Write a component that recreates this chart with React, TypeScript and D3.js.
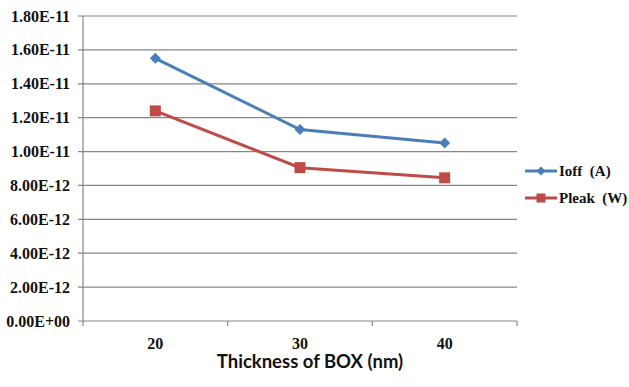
import * as d3 from "d3";

// Données
const thickness = ["20", "30", "40"];
const ioff = [1.55e-11, 1.13e-11, 1.05e-11];
const pleak = [1.24e-11, 9.05e-12, 8.45e-12];
const yTicks = [0, 2e-12, 4e-12, 6e-12, 8e-12, 1e-11, 1.2e-11, 1.4e-11, 1.6e-11, 1.8e-11];

const W = 629;
const H = 387;
const margin = { top: 16, right: 112, bottom: 66, left: 83 };

const BLUE = "#4A7EBB";
const RED = "#BE4B48";
const GRID = "#868686";

const fmt = (v: number) => v.toExponential(2).toUpperCase().replace(/E([+-])(\d)$/, "E$10$2");

export default function App() {
  const x = d3
    .scaleBand()
    .domain(thickness)
    .range([margin.left, W - margin.right]);
  const y = d3
    .scaleLinear()
    .domain([0, 1.8e-11])
    .range([H - margin.bottom, margin.top]);

  const cx = (d: string) => (x(d) || 0) + x.bandwidth() / 2;
  const line = d3
    .line<number>()
    .x((_, i) => cx(thickness[i]))
    .y((d) => y(d));

  const tickFont = "Liberation Serif";
  const x0 = margin.left;
  const x1 = W - margin.right;
  const yBase = y(0);

  const series = [
    { name: "Ioff (A)", values: ioff, color: BLUE, marker: "diamond" },
    { name: "Pleak (W)", values: pleak, color: RED, marker: "square" },
  ];

  const marker = (kind: string, px: number, py: number, color: string, key: string) =>
    kind === "diamond" ? (
      <path key={key} d={`M${px},${py - 5.5}L${px + 5.5},${py}L${px},${py + 5.5}L${px - 5.5},${py}Z`} fill={color} />
    ) : (
      <rect key={key} x={px - 5.5} y={py - 5.5} width={11} height={11} fill={color} />
    );

  return (
    <svg
      width={W}
      height={H}
      style={{ position: "absolute", left: 0, top: 0, background: "#fff" }}
    >
      {/* Grille horizontale + graduations Y */}
      {yTicks.map((t) => (
        <g key={t}>
          <line x1={x0 - 5} x2={x1} y1={y(t)} y2={y(t)} stroke={GRID} strokeWidth={1.2} />
          <text
            x={70}
            y={y(t)}
            dy="0.35em"
            textAnchor="end"
            fontFamily={tickFont}
            fontWeight="bold"
            fontSize={16}
            fill="#111"
          >
            {fmt(t)}
          </text>
        </g>
      ))}

      {/* Axe Y */}
      <line x1={x0} x2={x0} y1={margin.top} y2={yBase} stroke={GRID} strokeWidth={1.2} />

      {/* Graduations X */}
      {[...thickness.map((d) => x(d) || 0), x1].map((tx, i) => (
        <line key={i} x1={tx} x2={tx} y1={yBase} y2={yBase + 5} stroke={GRID} strokeWidth={1.2} />
      ))}
      {thickness.map((d) => (
        <text
          key={d}
          x={cx(d)}
          y={343}
          dy="0.35em"
          textAnchor="middle"
          fontFamily={tickFont}
          fontWeight="bold"
          fontSize={16}
          fill="#111"
        >
          {d}
        </text>
      ))}

      <text
        x={310}
        y={368}
        textAnchor="middle"
        fontFamily="Lato"
        fontWeight="bold"
        fontSize={18.5}
        fill="#111"
      >
        Thickness of BOX (nm)
      </text>

      {/* Séries */}
      {series.map((s) => (
        <g key={s.name}>
          <path d={line(s.values) || ""} fill="none" stroke={s.color} strokeWidth={3} />
          {s.values.map((v, i) => marker(s.marker, cx(thickness[i]), y(v), s.color, `${s.name}-${i}`))}
        </g>
      ))}

      {/* Légende */}
      {series.map((s, i) => {
        const ly = 171 + i * 27;
        return (
          <g key={s.name}>
            <line x1={525} x2={557} y1={ly} y2={ly} stroke={s.color} strokeWidth={3} />
            {s.marker === "diamond" ? (
              <path d={`M541,${ly - 4.5}L545.5,${ly}L541,${ly + 4.5}L536.5,${ly}Z`} fill={s.color} />
            ) : (
              <rect x={536.5} y={ly - 4.5} width={9} height={9} fill={s.color} />
            )}
            <text
              x={559}
              y={ly}
              dy="0.35em"
              fontFamily={tickFont}
              fontWeight="bold"
              fontSize={15}
              fill="#111"
              style={{ whiteSpace: "pre" }}
            >
              {s.name.replace(" ", "  ")}
            </text>
          </g>
        );
      })}
    </svg>
  );
}
